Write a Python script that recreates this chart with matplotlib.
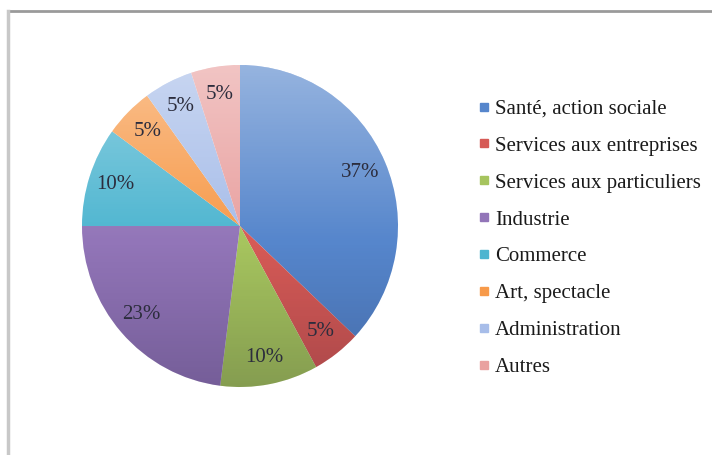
import numpy as np
import matplotlib
matplotlib.use("Agg")
import matplotlib.pyplot as plt
from matplotlib.lines import Line2D
from matplotlib.patches import Circle

# data
categories = ["Santé, action sociale", "Services aux entreprises",
              "Services aux particuliers", "Industrie", "Commerce",
              "Art, spectacle", "Administration", "Autres"]
shares = [37, 5, 10, 23, 10, 5, 5, 5]
colors = ["#5686cc", "#d65a56", "#a6c45e", "#9275b8", "#4db5d0",
          "#f79a4a", "#a7bde9", "#e9a1a0"]

W, H = 712, 455
fig = plt.figure(figsize=(W / 100, H / 100), dpi=100)
fig.patch.set_facecolor("white")

# thin grey frame on top and left, like the screenshot
fig.add_artist(Line2D([8 / W, 1], [1 - 11 / H, 1 - 11 / H], color="#9a9a9a", lw=2))
fig.add_artist(Line2D([8 / W, 8 / W], [0, 1 - 11 / H], color="#c8c8c8", lw=2.5))

# pie axes, covering the pie's bounding box
left, top, pw, ph = 82, 65, 316, 322
ax = fig.add_axes([left / W, 1 - (top + ph) / H, pw / W, ph / H])

wedges, texts, autotexts = ax.pie(
    shares, colors=colors, startangle=90, counterclock=False,
    autopct="%d%%", pctdistance=0.83, radius=1,
    wedgeprops=dict(linewidth=0),
    textprops=dict(family="Liberation Serif", fontsize=15, color="#2c2d3d"))
ax.set_aspect("auto")
ax.set_xlim(-1, 1)
ax.set_ylim(-1, 1)
ax.axis("off")

# vertical shading: lighter on top, darker at the bottom
n = 256
grad = np.zeros((n, 1, 4))
for i, v in enumerate(np.linspace(0, 1, n)):
    if v < 0.55:
        grad[i, 0] = [1, 1, 1, 0.38 * (0.55 - v) / 0.55]
    else:
        grad[i, 0] = [0, 0, 0.1, 0.2 * (v - 0.55) / 0.45]
img = ax.imshow(grad, extent=[-1, 1, -1, 1], aspect="auto", origin="upper",
                zorder=1.5)
clip = Circle((0, 0), 1, transform=ax.transData)
img.set_clip_path(clip)
for tx in autotexts:
    tx.set_zorder(3)

# legend
handles = [Line2D([], [], marker="s", linestyle="none", markersize=6,
                  markerfacecolor=c, markeredgecolor=c) for c in colors]
leg = fig.legend(handles, categories, loc="upper left",
                 bbox_to_anchor=(470 / W, 1 - 91 / H), frameon=False,
                 prop=dict(family="Liberation Serif", size=15),
                 handlelength=0.55, handletextpad=0.25, labelspacing=0.83,
                 borderaxespad=0)
for tx in leg.get_texts():
    tx.set_color("#1a1a1a")

fig.savefig("out.png", dpi=100, facecolor="white")
